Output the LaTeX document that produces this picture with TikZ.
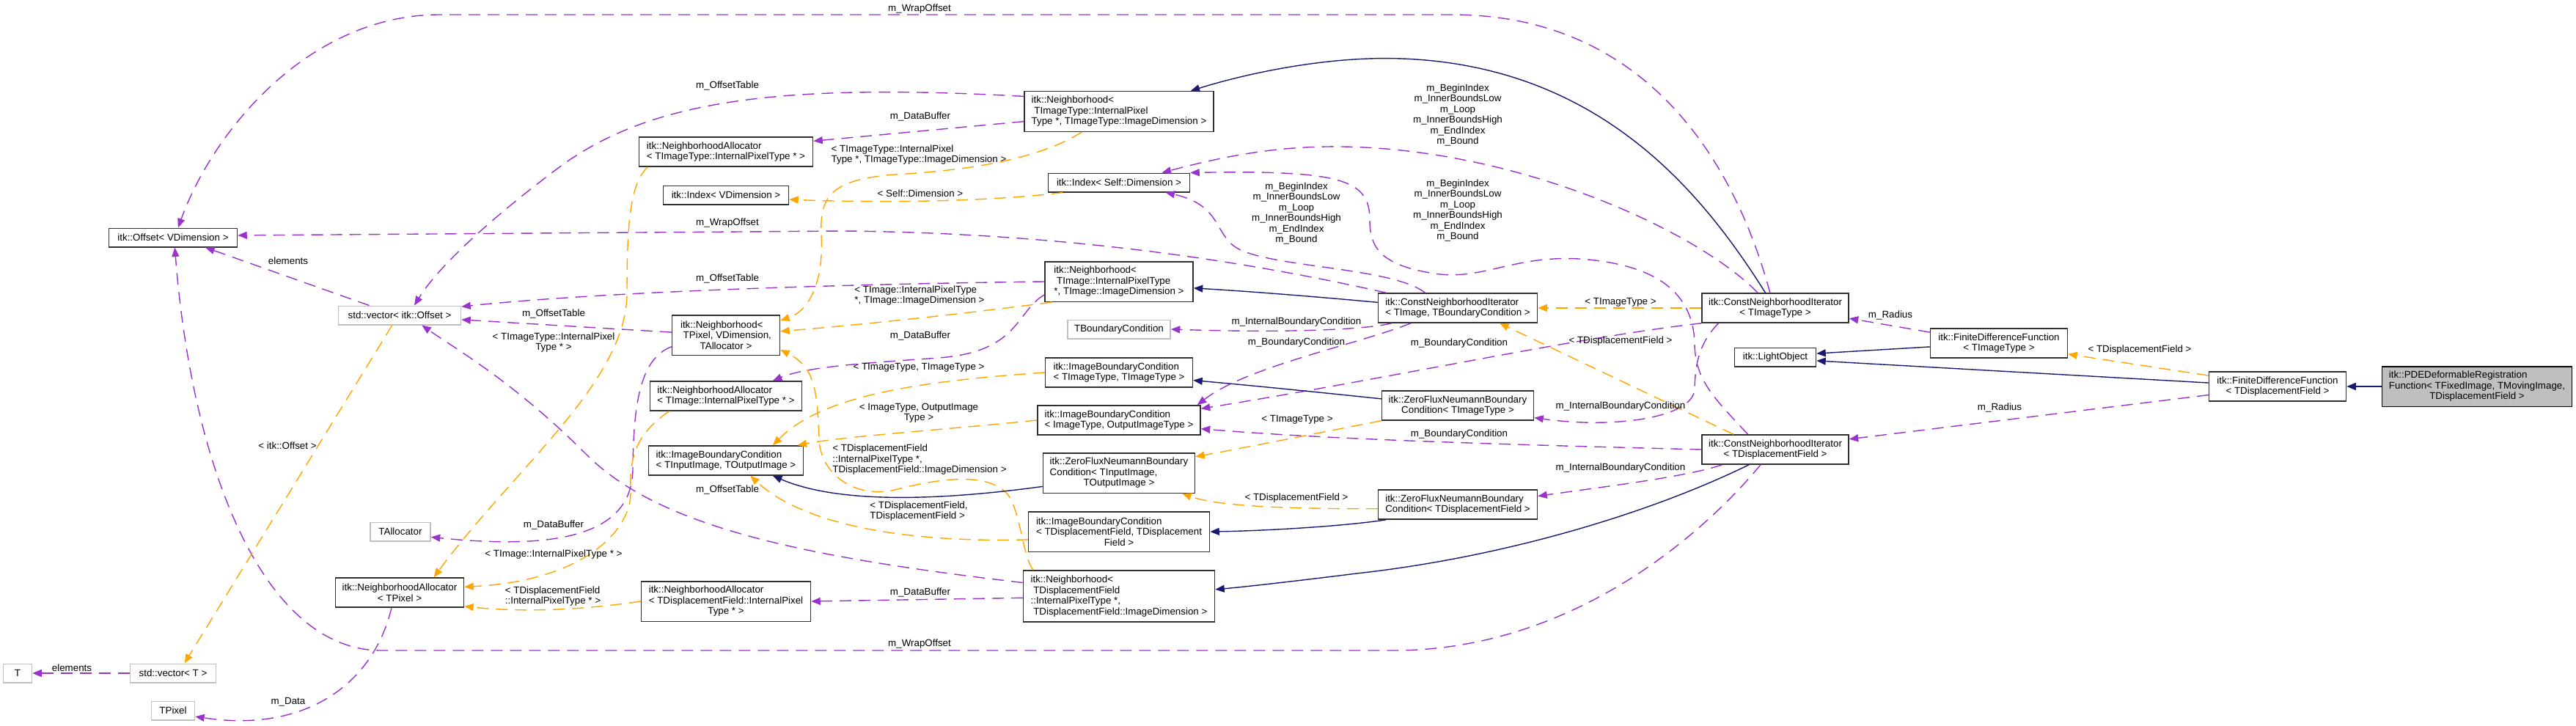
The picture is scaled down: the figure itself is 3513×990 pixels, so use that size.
\documentclass[tikz,border=0pt]{standalone}
\usepackage{fontspec}
\setmainfont{Liberation Sans}
\usetikzlibrary{arrows.meta}
\definecolor{ink}{HTML}{000000}
\definecolor{ink2}{HTML}{303030}
\definecolor{grey2}{HTML}{BFBFBF}
\definecolor{purple1}{HTML}{9A32CD}
\definecolor{orange1}{HTML}{FFA500}
\definecolor{navy1}{HTML}{191970}
\newcommand{\idxmembers}{m\_BeginIndex\\m\_InnerBoundsLow\\m\_Loop\\m\_InnerBoundsHigh\\m\_EndIndex\\m\_Bound}

\begin{document}
\begin{tikzpicture}[x=0.2mm,y=-0.2mm,font=\fontsize{7.6}{8.25}\selectfont,text=ink,
  cls/.style={draw=ink2,line width=0.3mm,fill=white,align=left,inner xsep=1.5mm,inner ysep=0.4mm,minimum height=5.1mm},
  undoc/.style={cls,draw=grey2},
  rows2/.style={minimum height=8mm},
  rows3/.style={minimum height=10.9mm},
  rows4/.style={minimum height=14mm},
  usage/.style={purple1,line width=0.28mm,dash pattern=on 3.2mm off 2mm,-{Triangle[length=2.5mm,width=2mm]}},
  tmpl/.style={usage,orange1},
  inherit/.style={navy1,line width=0.28mm,-{Triangle[length=2.5mm,width=2mm]}},
  lbl/.style={inner sep=0pt,align=left},
  blk/.style={inner sep=0pt,align=center}]
  \useasboundingbox (0,0) rectangle (3513,990);
  % classes
  \node[cls,minimum width=35mm] (off) at (236,324) {itk::Offset< VDimension >};
  \node[undoc,minimum width=33.4mm] (vecoff) at (545,430) {std::vector< itk::Offset >};
  \node[undoc,minimum width=7.8mm] (tt) at (24,918) {T};
  \node[undoc,minimum width=23.4mm] (vect) at (236,918) {std::vector< T >};
  \node[undoc,minimum width=11.8mm] (tpix) at (236,969) {TPixel};
  \node[undoc,minimum width=16.4mm] (talloc) at (546,725) {TAllocator};
  \node[cls,rows2,minimum width=35mm] (napix) at (545,808) {itk::NeighborhoodAllocator\\\hfil< TPixel >};
  \node[cls,rows2,minimum width=47.4mm] (naimt) at (990,207) {itk::NeighborhoodAllocator\\< TImageType::InternalPixelType * >};
  \node[cls,minimum width=34.2mm] (idxv) at (990,266) {itk::Index< VDimension >};
  \node[cls,rows3,minimum width=29.4mm] (nbpix) at (990,457) {itk::Neighborhood<\\\ TPixel, VDimension,\\\hfil TAllocator >};
  \node[cls,rows2,minimum width=41.4mm] (naim) at (990,540) {itk::NeighborhoodAllocator\\< TImage::InternalPixelType * >};
  \node[cls,rows2,minimum width=42.2mm] (ibcio) at (990,628) {itk::ImageBoundaryCondition\\< TInputImage, TOutputImage >};
  \node[cls,rows3,minimum width=46.2mm] (nadf) at (990,820) {itk::NeighborhoodAllocator\\< TDisplacementField::InternalPixel\\\hfil Type * >};
  \node[cls,rows3,minimum width=51.6mm] (nbimt) at (1526,152) {itk::Neighborhood<\\\ TImageType::InternalPixel\\Type *, TImageType::ImageDimension >};
  \node[cls,minimum width=38.6mm] (idxs) at (1526,249) {itk::Index< Self::Dimension >};
  \node[cls,rows3,minimum width=40.4mm] (nbim) at (1526,384) {itk::Neighborhood<\\\ TImage::InternalPixelType\\{}*, TImage::ImageDimension >};
  \node[undoc,minimum width=28mm] (tbc) at (1526,449) {TBoundaryCondition};
  \node[cls,rows2,minimum width=40.2mm] (ibctt) at (1526,508) {itk::ImageBoundaryCondition\\< TImageType, TImageType >};
  \node[cls,rows2,minimum width=44.4mm] (ibcot) at (1526,573) {itk::ImageBoundaryCondition\\< ImageType, OutputImageType >};
  \node[cls,rows3,minimum width=41.4mm] (zfio) at (1526,645) {itk::ZeroFluxNeumannBoundary\\Condition< TInputImage,\\\hfil TOutputImage >};
  \node[cls,rows3,minimum width=49.4mm] (ibcdf) at (1526,725) {itk::ImageBoundaryCondition\\< TDisplacementField, TDisplacement\\\hfil Field >};
  \node[cls,rows4,minimum width=52.2mm] (nbdf) at (1526,813) {itk::Neighborhood<\\\ TDisplacementField\\::InternalPixelType *,\\\ TDisplacementField::ImageDimension >};
  \node[cls,rows2,minimum width=43.4mm] (cnib) at (1988,420) {itk::ConstNeighborhoodIterator\\< TImage, TBoundaryCondition >};
  \node[cls,rows2,minimum width=41.4mm] (zftt) at (1988,553) {itk::ZeroFluxNeumannBoundary\\\hfil Condition< TImageType >};
  \node[cls,rows2,minimum width=43.4mm] (zfdf) at (1988,688) {itk::ZeroFluxNeumannBoundary\\Condition< TDisplacementField >};
  \node[cls,rows2,minimum width=40mm] (cnitt) at (2421,420) {itk::ConstNeighborhoodIterator\\\hfil< TImageType >};
  \node[cls,rows2,minimum width=40mm] (cnidf) at (2421,613) {itk::ConstNeighborhoodIterator\\\hfil< TDisplacementField >};
  \node[cls,minimum width=22.2mm] (light) at (2421,487) {itk::LightObject};
  \node[cls,rows2,minimum width=37.4mm] (fdftt) at (2726,468) {itk::FiniteDifferenceFunction\\\hfil< TImageType >};
  \node[cls,rows2,minimum width=37.4mm] (fdfdf) at (3106,527) {itk::FiniteDifferenceFunction\\\hfil< TDisplacementField >};
  \node[cls,rows3,fill=grey2,draw=ink,minimum width=51.8mm] (pde) at (3378,527) {itk::PDEDeformableRegistration\\Function< TFixedImage, TMovingImage,\\\hfil TDisplacementField >};

  % members
  \draw[usage] (vecoff.162) -- (off.-17);
  \draw[usage] (vect.west) -- (tt.east);
  \draw[usage] (napix.242) .. controls (510,930) and (420,1000) .. (tpix.-15);
  \draw[usage] (nbpix.192) .. controls (870,490) and (864,560) .. (863,640) .. controls (862,730) and (760,750) .. (talloc.-10);
  \draw[usage] (nbpix.177) -- (vecoff.-4);
  \draw[usage] (nbimt.171) .. controls (1050,112) and (880,140) .. (760,230) .. controls (676,293) and (600,360) .. (vecoff.34);
  \draw[usage] (nbimt.186) -- (naimt.7);
  \draw[usage] (nbim.west) .. controls (1100,388) and (800,400) .. (vecoff.8);
  \draw[usage] (nbim.190) .. controls (1385,425) and (1390,480) .. (1280,488) .. controls (1181,495) and (1100,500) .. (naim.18);
  \draw[usage] (nbdf.172) .. controls (1100,760) and (900,720) .. (800,620) .. controls (700,520) and (620,475) .. (vecoff.-24);
  \draw[usage] (nbdf.181) -- (nadf.east);
  \draw[usage] (cnitt.109) .. controls (2360,200) and (2230,20) .. (1980,20) -- (600,20) .. controls (420,20) and (290,180) .. (off.63);
  \draw[usage] (cnib.168) .. controls (1760,370) and (1500,318) .. (1150,315) -- (off.2);
  \draw[usage] (cnidf.226) .. controls (2330,720) and (2150,887) .. (1900,887) -- (520,887) .. controls (360,887) and (262,640) .. (off.-80);
  \draw[usage] (cnitt.139) .. controls (2330,330) and (2150,240) .. (1950,210) .. controls (1800,188) and (1700,205) .. (idxs.13);
  \draw[usage] (cnib.155) .. controls (1900,365) and (1740,365) .. (1690,340) .. controls (1655,322) and (1668,280) .. (idxs.-12);
  \draw[usage] (cnidf.151) .. controls (2340,545) and (2312,520) .. (2311,470) .. controls (2310,400) and (2260,360) .. (2153,353) .. controls (2060,348) and (2020,385) .. (1950,372) .. controls (1880,360) and (1868,335) .. (1868,300) .. controls (1868,245) and (1830,232) .. (idxs.north east);
  \draw[usage] (cnib.193) .. controls (1860,450) and (1750,454) .. (tbc.east);
  \draw[usage] (cnib.198) .. controls (1850,470) and (1700,500) .. (ibcot.11);
  \draw[usage] (cnitt.south west) .. controls (2150,460) and (1900,515) .. (ibcot.8);
  \draw[usage] (cnidf.west) .. controls (2000,605) and (1800,598) .. (ibcot.-6);
  \draw[usage] (cnitt.195) .. controls (2315,470) and (2312,500) .. (2311,530) .. controls (2310,570) and (2200,585) .. (zftt.-9);
  \draw[usage] (cnidf.196) .. controls (2300,650) and (2200,662) .. (zfdf.6);
  \draw[usage] (fdftt.171) -- (cnitt.-8);
  \draw[usage] (fdfdf.187) -- (cnidf.8);

  % template instances
  \draw[tmpl] (vecoff.233) -- (vect.41);
  \draw[tmpl] (naimt.191) .. controls (860,250) and (855,300) .. (855,400) .. controls (855,520) and (700,640) .. (napix.24);
  \draw[tmpl] (naim.195) .. controls (870,590) and (858,620) .. (860,670) .. controls (862,720) and (800,792) .. (napix.5);
  \draw[tmpl] (nadf.west) .. controls (780,834) and (700,834) .. (napix.-12);
  \draw[tmpl] (idxs.190) .. controls (1350,275) and (1200,277) .. (idxv.-4);
  \draw[tmpl] (nbimt.209) .. controls (1420,215) and (1330,232) .. (1220,238) .. controls (1130,245) and (1118,270) .. (1120,320) .. controls (1124,390) and (1100,425) .. (nbpix.15);
  \draw[tmpl] (nbim.197) .. controls (1300,430) and (1150,445) .. (nbpix.4);
  \draw[tmpl] (nbdf.163) .. controls (1395,760) and (1392,700) .. (1375,675) .. controls (1350,645) and (1290,650) .. (1220,668) .. controls (1170,680) and (1120,650) .. (1117,600) .. controls (1115,530) and (1110,500) .. (nbpix.-15);
  \draw[tmpl] (ibctt.west) .. controls (1250,520) and (1120,540) .. (ibcio.18);
  \draw[tmpl] (ibcot.west) .. controls (1300,585) and (1150,595) .. (ibcio.12);
  \draw[tmpl] (ibcdf.185) .. controls (1250,740) and (1100,720) .. (ibcio.-32);
  \draw[tmpl] (zftt.south west) .. controls (1800,590) and (1700,610) .. (zfio.12);
  \draw[tmpl] (zfdf.183) .. controls (1750,694) and (1660,690) .. (zfio.-18);
  \draw[tmpl] (cnitt.west) -- (cnib.east);
  \draw[tmpl] (cnidf.160) -- (cnib.-20);
  \draw[tmpl] (fdfdf.171) -- (fdftt.-9);

  % base classes
  \draw[inherit] (cnitt.123) .. controls (2320,260) and (2180,90) .. (1912,80) .. controls (1812,76) and (1700,100) .. (nbimt.16);
  \draw[inherit] (cnib.176) .. controls (1800,405) and (1700,397) .. (nbim.-5);
  \draw[inherit] (zftt.175) .. controls (1800,535) and (1700,525) .. (ibctt.-6);
  \draw[inherit] (zfio.190) .. controls (1300,680) and (1150,690) .. (ibcio.-18);
  \draw[inherit] (zfdf.192) .. controls (1830,718) and (1720,724) .. (ibcdf.east);
  \draw[inherit] (cnidf.210) .. controls (2250,700) and (2050,760) .. (1850,782) .. controls (1770,792) and (1700,800) .. (nbdf.4);
  \draw[inherit] (fdftt.183) -- (light.5);
  \draw[inherit] (fdfdf.177) -- (light.-5);
  \draw[inherit] (pde.west) -- (fdfdf.east);

  % edge labels
  \node[lbl] (lb1) at (393,356) {elements};
  \node[lbl] (lb2) at (98,911) {elements};
  \node[lbl] (lb3) at (393,957) {m\_Data};
  \node[lbl] (lb4) at (392,608) {< itk::Offset >};
  \node[lbl] (lb5) at (755,428) {m\_OffsetTable};
  \node[lbl] (lb6) at (755,467) {< TImageType::InternalPixel\\\hfil Type * >};
  \node[lbl] (lb7) at (755,716) {m\_DataBuffer};
  \node[lbl] (lb8) at (755,756) {< TImage::InternalPixelType * >};
  \node[lbl] (lb9) at (754,813) {< TDisplacementField\\::InternalPixelType * >};
  \node[lbl] (lb10) at (992,117) {m\_OffsetTable};
  \node[lbl] (lb11) at (992,304) {m\_WrapOffset};
  \node[lbl] (lb12) at (992,380) {m\_OffsetTable};
  \node[lbl] (lb13) at (992,668) {m\_OffsetTable};
  \node[lbl] (lb14) at (1254,12) {m\_WrapOffset};
  \node[lbl] (lb15) at (1255,159) {m\_DataBuffer};
  \node[lbl] (lb16) at (1253,211) {< TImageType::InternalPixel\\Type *, TImageType::ImageDimension >};
  \node[lbl] (lb17) at (1255,264) {< Self::Dimension >};
  \node[lbl] (lb18) at (1254,403) {< TImage::InternalPixelType\\{}*, TImage::ImageDimension >};
  \node[lbl] (lb19) at (1255,458) {m\_DataBuffer};
  \node[lbl] (lb20) at (1253,501) {< TImageType, TImageType >};
  \node[lbl] (lb21) at (1253,563) {< ImageType, OutputImage\\\hfil Type >};
  \node[lbl] (lb22) at (1254,627) {< TDisplacementField\\::InternalPixelType *,\\TDisplacementField::ImageDimension >};
  \node[lbl] (lb23) at (1253,697) {< TDisplacementField,\\TDisplacementField >};
  \node[lbl] (lb24) at (1255,808) {m\_DataBuffer};
  \node[lbl] (lb25) at (1254,878) {m\_WrapOffset};
  \node[blk] (bk1) at (1768,291) {\idxmembers};
  \node[blk] (bk2) at (1988,157) {\idxmembers};
  \node[blk] (bk3) at (1988,287) {\idxmembers};
  \node[lbl] (lb26) at (1768,439) {m\_InternalBoundaryCondition};
  \node[lbl] (lb27) at (1768,467) {m\_BoundaryCondition};
  \node[lbl] (lb28) at (1990,468) {m\_BoundaryCondition};
  \node[lbl] (lb29) at (1990,592) {m\_BoundaryCondition};
  \node[lbl] (lb30) at (1769,572) {< TImageType >};
  \node[lbl] (lb31) at (1768,679) {< TDisplacementField >};
  \node[lbl] (lb32) at (2210,412) {< TImageType >};
  \node[lbl] (lb33) at (2210,465) {< TDisplacementField >};
  \node[lbl] (lb34) at (2210,554) {m\_InternalBoundaryCondition};
  \node[lbl] (lb35) at (2210,638) {m\_InternalBoundaryCondition};
  \node[lbl] (lb36) at (2578,430) {m\_Radius};
  \node[lbl] (lb37) at (2727,556) {m\_Radius};
  \node[lbl] (lb38) at (2918,477) {< TDisplacementField >};
\end{tikzpicture}
\end{document}
